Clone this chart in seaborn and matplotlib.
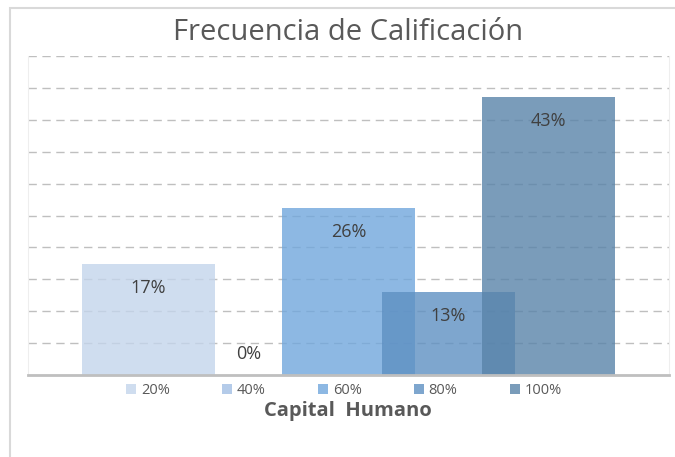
import matplotlib
matplotlib.use('Agg')
import matplotlib.pyplot as plt
import seaborn as sns
import pandas as pd
from matplotlib.patches import Rectangle

# 数据：各评分等级的频率（%）
levels = ['20%', '40%', '60%', '80%', '100%']
freq = [17.4, 0.0, 26.1, 13.0, 43.5]
labels = ['17%', '0%', '26%', '13%', '43%']
colors = ['#C4D5EB', '#A1BFE4', '#71A7DC', '#5E90C2', '#5983A9']

sns.set_theme(style='white')
plt.rcParams['font.family'] = ['Open Sans', 'DejaVu Sans']

df = pd.DataFrame({'nivel': levels, 'frecuencia': freq})

fig = plt.figure(figsize=(6.75, 4.57), dpi=100)
# 外框（浅灰）
fig.patches.append(Rectangle((10 / 675, -0.1), 1.2, 1 - 8 / 457 + 0.1,
                             transform=fig.transFigure, fill=False,
                             edgecolor='#D9D9D9', lw=1.5))
ax = fig.add_axes([28 / 675, 1 - 375 / 457, (669 - 28) / 675, (375 - 56) / 457])

# 网格线画在柱子下面，柱子半透明
ax.set_axisbelow(True)
for yv in range(5, 55, 5):
    ax.axhline(yv, color='#BFBFBF', lw=1.0, ls=(0, (6, 4)), zorder=0)

sns.barplot(data=df, x='nivel', y='frecuencia', hue='nivel', order=levels,
            hue_order=levels, palette=colors, width=1.33, dodge=False,
            saturation=1, alpha=0.8, linewidth=0, edgecolor='none',
            ax=ax, legend=True)

# 数据标签
for i, (v, t) in enumerate(zip(freq, labels)):
    yv = v - 3.7 if v > 3.7 else v + 3.3
    ax.text(i, yv, t, ha='center', va='center', fontsize=13, color='#404040')

ax.set_xlim(-1.205, 5.205)
ax.set_ylim(0, 50)
ax.set_xticks([])
ax.set_yticks([])
ax.set_ylabel('')
ax.set_xlabel('')
for s in ['left', 'right', 'top']:
    ax.spines[s].set_color('#EEEEEE')
    ax.spines[s].set_linewidth(0.8)
ax.spines['top'].set_visible(False)
ax.spines['bottom'].set_color('#BFBFBF')
ax.spines['bottom'].set_linewidth(2)

sns.move_legend(ax, 'upper center', bbox_to_anchor=(0.493, 0.015), ncol=5,
                frameon=False, title=None, fontsize=10.5, handlelength=0.7,
                handleheight=0.7, handletextpad=0.3, columnspacing=3.6,
                labelcolor='#595959')

fig.text(348 / 675, 1 - 33 / 457, 'Frecuencia de Calificación', ha='center',
         va='center', fontsize=21, color='#595959')
fig.text(348 / 675, 1 - 411 / 457, 'Capital  Humano', ha='center',
         va='center', fontsize=14.5, fontweight='bold', color='#595959')

fig.savefig('out.png', dpi=100, facecolor='white')
